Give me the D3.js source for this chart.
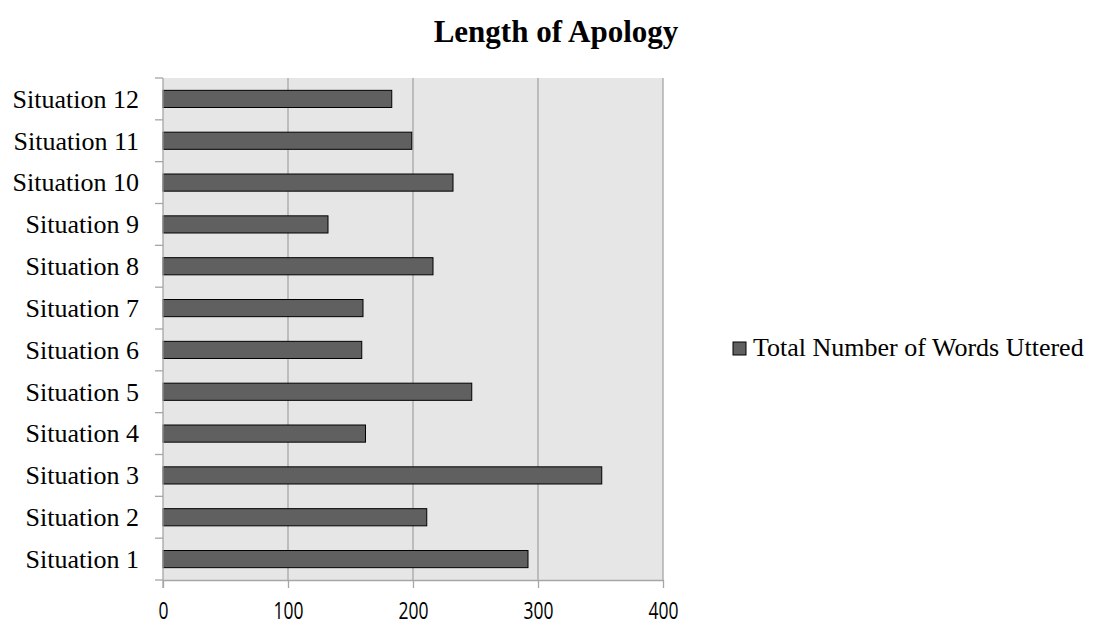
<!DOCTYPE html>
<html>
<head>
<meta charset="utf-8">
<script src="https://cdn.jsdelivr.net/npm/d3@7"></script>
<style>
  body { margin: 0; background: #fff; }
  svg { display: block; }
</style>
</head>
<body>
<div id="chart"></div>
<script>
var categories = ["Situation 1", "Situation 2", "Situation 3", "Situation 4", "Situation 5", "Situation 6",
                  "Situation 7", "Situation 8", "Situation 9", "Situation 10", "Situation 11", "Situation 12"];
var words = [292, 211, 351, 162, 247, 159, 160, 216, 132, 232, 199, 183];
var xTicks = [0, 100, 200, 300, 400];
var seriesName = "Total Number of Words Uttered";

(function () {
    'use strict';
    var width = 1096, height = 625,
        left = 163, right = 663, top = 78, bottom = 580,
        grid = "#a6a6a6", bg = "#e6e6e6", barFill = "#606060",
        serif = "'Liberation Serif', 'Times New Roman', serif",
        svg, x, y, g;

    svg = d3.select("#chart").append("svg")
        .attr("width", width)
        .attr("height", height);

    x = d3.scaleLinear().domain([0, 400]).range([left, right]);
    // first category at the bottom
    y = d3.scaleBand().domain(categories.slice().reverse())
        .range([top, bottom]).paddingInner(0.59).paddingOuter(0.295);

    svg.append("text")
        .attr("x", 556)
        .attr("y", 42)
        .attr("text-anchor", "middle")
        .style("font-family", serif)
        .style("font-weight", "bold")
        .style("font-size", "31px")
        .text("Length of Apology");

    svg.append("rect")
        .attr("x", left).attr("y", top)
        .attr("width", right - left).attr("height", bottom - top)
        .attr("fill", bg);

    g = svg.append("g");
    g.selectAll("line.grid")
        .data(xTicks.slice(1))
        .enter()
        .append("line")
        .attr("class", "grid")
        .attr("x1", function (d) { return x(d); })
        .attr("x2", function (d) { return x(d); })
        .attr("y1", top).attr("y2", bottom)
        .attr("stroke", grid).attr("stroke-width", 1.3);

    svg.selectAll("rect.bar")
        .data(words)
        .enter()
        .append("rect")
        .attr("class", "bar")
        .attr("x", x(0))
        .attr("y", function (d, i) { return y(categories[i]); })
        .attr("width", function (d) { return x(d) - x(0); })
        .attr("height", y.bandwidth())
        .attr("fill", barFill)
        .attr("stroke", "#000")
        .attr("stroke-width", 1);

    // bottom axis
    var xAxis = svg.append("g")
        .attr("transform", "translate(0," + bottom + ")")
        .call(d3.axisBottom(x).tickValues(xTicks).tickSize(8).tickSizeOuter(0));
    xAxis.select(".domain").attr("stroke", grid).attr("stroke-width", 1.3);
    xAxis.selectAll(".tick line").attr("stroke", grid).attr("stroke-width", 1.3);
    xAxis.selectAll(".tick text")
        .attr("y", 0)
        .attr("dy", 0)
        .attr("transform", "translate(0,39) scale(0.76,1)")
        .attr("fill", "#000")
        .style("font-family", "'Open Sans', 'Noto Sans', sans-serif")
        .style("font-size", "23px");

    // left axis: ticks sit on category boundaries
    var boundaries = d3.range(categories.length + 1).map(function (i) {
        return top + i * (bottom - top) / categories.length;
    });
    svg.append("line")
        .attr("x1", left).attr("x2", left)
        .attr("y1", top).attr("y2", bottom + 8)
        .attr("stroke", grid).attr("stroke-width", 1.3);
    svg.selectAll("line.ytick")
        .data(boundaries)
        .enter()
        .append("line")
        .attr("class", "ytick")
        .attr("x1", left - 8).attr("x2", left)
        .attr("y1", function (d) { return d; })
        .attr("y2", function (d) { return d; })
        .attr("stroke", grid).attr("stroke-width", 1.3);

    svg.selectAll("text.ylab")
        .data(categories)
        .enter()
        .append("text")
        .attr("class", "ylab")
        .attr("x", 139)
        .attr("y", function (d) { return y(d) + y.bandwidth() / 2; })
        .attr("dy", "0.34em")
        .attr("text-anchor", "end")
        .style("font-family", serif)
        .style("font-size", "26px")
        .text(function (d) { return d; });

    // legend
    var legend = svg.append("g").attr("transform", "translate(733,342)");
    legend.append("rect")
        .attr("width", 13).attr("height", 13)
        .attr("fill", barFill).attr("stroke", "#000").attr("stroke-width", 1);
    legend.append("text")
        .attr("x", 20).attr("y", 14)
        .style("font-family", serif)
        .style("font-size", "26px")
        .text(seriesName);
}());
</script>
</body>
</html>
